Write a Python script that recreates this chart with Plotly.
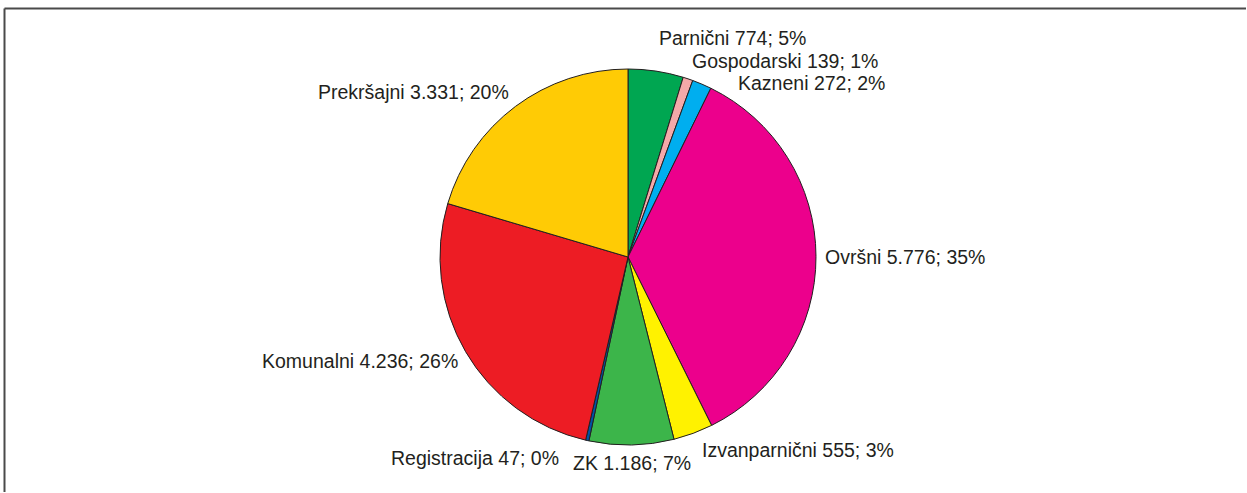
import math
import plotly.graph_objects as go

# Broj predmeta po vrsti
vrste = ["Parnični", "Gospodarski", "Kazneni", "Ovršni", "Izvanparnični",
         "ZK", "Registracija", "Komunalni", "Prekršajni"]
broj = [774, 139, 272, 5776, 555, 1186, 47, 4236, 3331]
boje = ["#00a651", "#f5a9a9", "#00aeef", "#ec008c", "#fff200",
        "#3cb54a", "#0054a6", "#ed1c24", "#ffcb05"]

W, H = 1247, 493
ML, MR, MT, MB = 20, 11, 69, 48
PW, PH = W - ML - MR, H - MT - MB
R = min(PW, PH) / 2
CX, CY = ML + PW / 2, MT + PH / 2

FONT = dict(family="Liberation Sans, Arial, sans-serif", size=19.5, color="#231f20")
GAP = 7        # razmak oznake od ruba kruga (px)
LH = 22.5      # visina retka oznake (px)
CW = 9.4       # procjena širine znaka (px)


def fmt_broj(v):
    return f"{v:,}".replace(",", ".")


ukupno = sum(broj)
oznake = []
kum = 0
for naziv, v in zip(vrste, broj):
    kut = (kum + v / 2) / ukupno * 2 * math.pi
    kum += v
    s, c = math.sin(kut), math.cos(kut)
    tekst = f"{naziv} {fmt_broj(v)}; {round(100 * v / ukupno)}%"
    px = CX + (R + GAP) * s
    py = CY - (R + GAP) * c
    strana = 0 if abs(s) < 0.1 else (1 if s > 0 else -1)
    oznake.append(dict(tekst=tekst, strana=strana, x=px, y=py - c * LH / 2,
                       w=len(tekst) * CW, rx=px))


def odmakni_od_kruga(o):
    # nakon pomaka po visini oznaka ne smije ući u krug
    rub = o["y"] + LH / 2 if o["y"] < CY else o["y"] - LH / 2
    dy = abs(CY - rub)
    rr = R + GAP
    if dy < rr:
        dx = math.sqrt(rr * rr - dy * dy)
        if o["strana"] == 1:
            o["x"] = max(o["rx"], CX + dx)
        else:
            o["x"] = min(o["rx"], CX - dx)


# oznake sa svake strane: grupiranje preklopljenih i ravnomjerno razmicanje
for strana in (1, -1):
    niz = sorted([o for o in oznake if o["strana"] == strana], key=lambda o: o["y"])
    for o in niz:
        o["zeljeni"] = o["y"]
    grupe = [[o] for o in niz]
    spojeno = True
    while spojeno:
        spojeno = False
        for g in grupe:
            sred = sum(o["zeljeni"] for o in g) / len(g)
            for k, o in enumerate(g):
                o["y"] = sred + (k - (len(g) - 1) / 2) * LH
        for k in range(len(grupe) - 1):
            if grupe[k][-1]["y"] + LH > grupe[k + 1][0]["y"]:
                grupe[k] = grupe[k] + grupe[k + 1]
                del grupe[k + 1]
                spojeno = True
                break
    for g in grupe:
        if len(g) > 1:
            for o in g:
                odmakni_od_kruga(o)

# oznaka ispod/iznad kruga gura susjede vodoravno
for sred in [o for o in oznake if o["strana"] == 0]:
    s0, s1 = sred["x"] - sred["w"] / 2, sred["x"] + sred["w"] / 2
    for o in oznake:
        if o["strana"] == 0 or abs(o["y"] - sred["y"]) >= LH:
            continue
        if o["strana"] == -1 and o["x"] > s0 - 14:
            o["x"] = s0 - 14
        if o["strana"] == 1 and o["x"] < s1 + 12:
            o["x"] = s1 + 12


def px2paper(x, y):
    return (x - ML) / PW, (MT + PH - y) / PH


fig = go.Figure(go.Pie(
    labels=vrste,
    values=broj,
    sort=False,
    direction="clockwise",
    rotation=0,
    marker=dict(colors=boje, line=dict(color="#231f20", width=1)),
    textinfo="none",
    hoverinfo="label+value+percent",
    showlegend=False,
))

for o in oznake:
    xp, yp = px2paper(o["x"], o["y"])
    fig.add_annotation(
        x=xp, y=yp, xref="paper", yref="paper", text=o["tekst"], showarrow=False,
        xanchor={1: "left", -1: "right", 0: "center"}[o["strana"]], yanchor="middle",
        font=FONT,
    )

# okvir: gornja i lijeva crta
okvir = dict(color="#4a4a4a", width=2)
x0, y0 = px2paper(4.5, 8.5)
x1, y1 = px2paper(W - 1, H - 1)
fig.add_shape(type="line", xref="paper", yref="paper", x0=x0, x1=x1, y0=y0, y1=y0, line=okvir)
fig.add_shape(type="line", xref="paper", yref="paper", x0=x0, x1=x0, y0=y0, y1=y1, line=okvir)

fig.update_layout(
    width=W, height=H,
    margin=dict(l=ML, r=MR, t=MT, b=MB),
    paper_bgcolor="white",
    plot_bgcolor="white",
)

fig.write_html("out.html")
